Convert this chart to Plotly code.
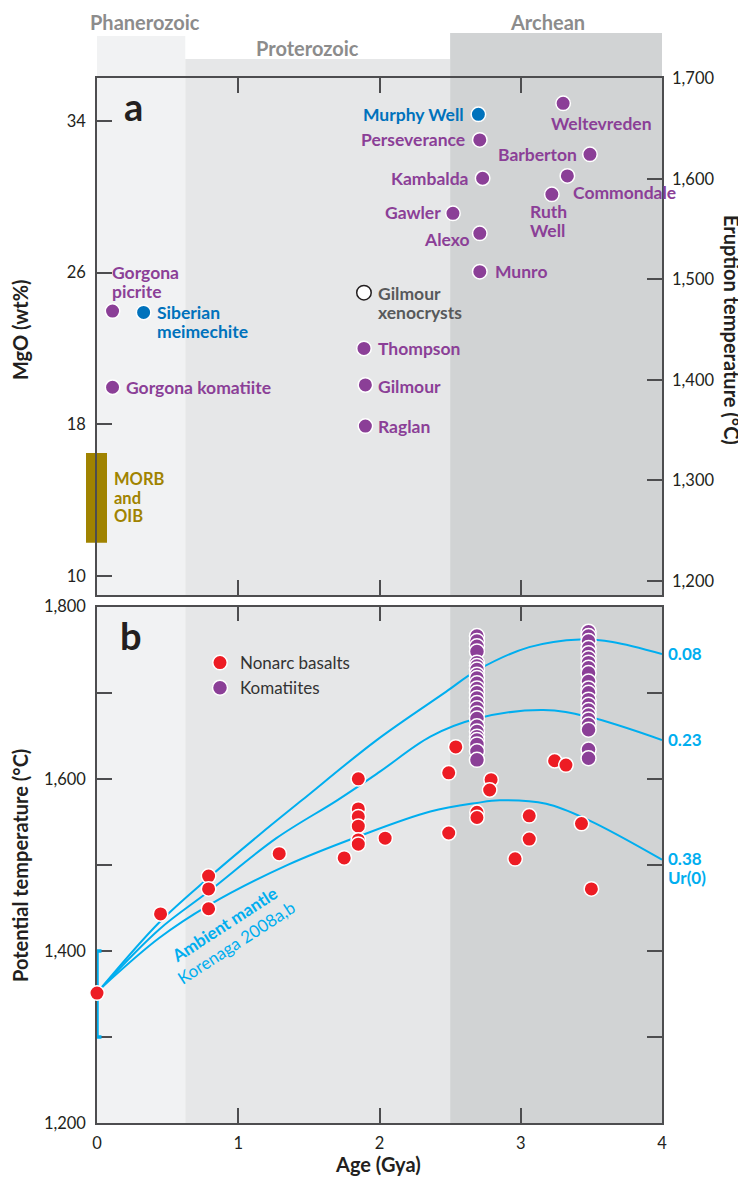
import plotly.graph_objects as go

# ---------------- data ----------------
eon_names = ["Phanerozoic", "Proterozoic", "Archean"]
eon_start = [0.0, 0.625, 2.5]
eon_end = [0.625, 2.5, 4.0]

# panel a: MgO (wt%) vs age (Gya)
a_names = ["Murphy Well", "Weltevreden", "Perseverance", "Barberton", "Kambalda",
           "Commondale", "Ruth<br>Well", "Gawler", "Alexo", "Munro",
           "Gilmour<br>xenocrysts", "Thompson", "Gilmour", "Raglan",
           "Gorgona<br>picrite", "Siberian<br>meimechite", "Gorgona komatiite"]
a_age = [2.70, 3.30, 2.71, 3.49, 2.73, 3.33, 3.22, 2.52, 2.71, 2.71,
         1.89, 1.89, 1.90, 1.90, 0.11, 0.33, 0.11]
a_mgo = [34.35, 34.93, 33.0, 32.24, 30.98, 31.10, 30.13, 29.13, 28.07, 26.05,
         24.94, 22.0, 20.07, 17.9, 23.97, 23.9, 19.95]
a_group = ["blue", "purple", "purple", "purple", "purple", "purple", "purple", "purple",
           "purple", "purple", "open", "purple", "purple", "purple", "purple", "blue", "purple"]

morb_mgo_range = [11.75, 16.48]

mgo_ticks = [10, 18, 26, 34]
mgo_ticktext = ["10", "18", "26", "34"]
erupt_ticks = [1200, 1300, 1400, 1500, 1600, 1700]
erupt_ticktext = ["1,200", "1,300", "1,400", "1,500", "1,600", "1,700"]

# panel b: potential temperature vs age
nonarc_age = [0.0, 0.45, 0.79, 0.79, 0.79, 1.29, 1.85, 1.85, 1.85, 1.85, 1.85, 1.85,
              1.75, 2.04, 2.54, 2.49, 2.79, 2.78, 2.69, 2.69, 2.49, 3.06, 3.06, 2.96,
              3.24, 3.32, 3.43, 3.50]
nonarc_T = [1351, 1443, 1487, 1472, 1449, 1513, 1600, 1565, 1556, 1545, 1529, 1524,
            1508, 1531, 1637, 1607, 1599, 1587, 1561, 1555, 1537, 1557, 1530, 1507,
            1621, 1616, 1548, 1472]

kom_age = [2.69, 2.69, 2.69, 2.69, 2.69, 2.69, 2.69, 2.69, 2.69, 2.69, 2.69, 2.69,
           2.69, 2.69, 2.69, 2.69, 2.69, 2.69, 2.69, 2.69, 2.69, 2.69, 2.69, 2.69,
           3.48, 3.48, 3.48, 3.48, 3.48, 3.48, 3.48, 3.48, 3.48, 3.48, 3.48, 3.48,
           3.48, 3.48, 3.48, 3.48, 3.48, 3.48, 3.48, 3.48, 3.48]
kom_T = [1766, 1760, 1754, 1748, 1735, 1731, 1727, 1721, 1717, 1711, 1705, 1700,
         1694, 1688, 1682, 1676, 1670, 1661, 1655, 1649, 1645, 1640, 1632, 1622,
         1771, 1766, 1760, 1752, 1746, 1740, 1735, 1729, 1723, 1713, 1705, 1700,
         1692, 1686, 1680, 1674, 1669, 1663, 1657, 1634, 1624]

curve_labels = ["0.08", "0.23", "0.38"]
curve_age = [
    [0.03, 0.44, 0.79, 1.15, 1.45, 1.98, 2.47, 2.69, 3.06, 3.42, 3.65, 4.0],
    [0.03, 0.44, 0.79, 1.27, 1.70, 2.00, 2.36, 2.69, 3.16, 3.48, 4.0],
    [0.03, 0.44, 0.79, 1.35, 1.85, 2.36, 2.69, 2.85, 3.18, 3.48, 4.0],
]
curve_T = [
    [1357, 1433, 1485, 1535, 1575, 1645, 1701, 1726, 1753, 1762, 1759, 1745],
    [1357, 1425, 1469, 1531, 1575, 1608, 1649, 1670, 1680, 1672, 1645],
    [1357, 1415, 1453, 1500, 1533, 1562, 1572, 1575, 1571, 1552, 1506],
]

mantle_age = [0.0]
mantle_T = [1350]
mantle_err = [50]

pt_ticks = [1200, 1300, 1400, 1500, 1600, 1700, 1800]
pt_ticktext = ["1,200", "", "1,400", "", "1,600", "", "1,800"]
age_ticks = [0, 1, 2, 3, 4]
age_ticktext = ["0", "1", "2", "3", "4"]

# ---------------- style ----------------
OFF = 8  # page body margin
W, H = 746 - OFF, 1177 - OFF
L, R, T, B = 97 - OFF, 84, 78 - OFF, 54
PW, PH = W - L - R, H - T - B
FONT = "Lato"
PURPLE = "#8b3f97"
BLUE = "#0072bc"
RED = "#ed1c24"
CYAN = "#00aeef"
OLIVE = "#a08300"
GRAYTXT = "#8c8c8c"
AX = "#4d4d4f"
TXT = "#231f20"
band_colors = ["#f1f2f3", "#e6e7e8", "#d1d3d4"]
band_tops_px = [36, 59, 33]
label_pos_px = [(145, 22), (307, 48), (547, 22)]


def pxx(x):
    # screen px -> paper x
    return (x - 97) / PW


def pxy(y):
    # screen px -> paper y
    return 1 - (y - 78) / PH


a_dom = [pxy(595), 1.0]
b_dom = [0.0, pxy(606.7)]

group_color = {"purple": PURPLE, "blue": BLUE, "open": "#58595b"}
# label placement: (dx px, dy px down, anchor)
label_style = {
    "Murphy Well": (-12, 0, "right"),
    "Weltevreden": (38, 20, "center"),
    "Perseverance": (-13, 0, "right"),
    "Barberton": (-11, 0, "right"),
    "Kambalda": (-13, 0, "right"),
    "Commondale": (4, 17, "left"),
    "Ruth<br>Well": (-24, 27, "left"),
    "Gawler": (-10, -1, "right"),
    "Alexo": (-8, 6, "right"),
    "Munro": (13, 0, "left"),
    "Gilmour<br>xenocrysts": (12, 10, "left"),
    "Thompson": (12, 0, "left"),
    "Gilmour": (11, 2, "left"),
    "Raglan": (11, 0, "left"),
    "Gorgona<br>picrite": (-3, -29, "left"),
    "Siberian<br>meimechite": (11, 10, "left"),
    "Gorgona komatiite": (11, 0, "left"),
}
LINE_GAP = 19

fig = go.Figure()

# panel a points
for grp, fill, lc in [("purple", PURPLE, "white"), ("blue", BLUE, "white"), ("open", "white", "#231f20")]:
    xs = [a for a, g in zip(a_age, a_group) if g == grp]
    ys = [m for m, g in zip(a_mgo, a_group) if g == grp]
    fig.add_trace(go.Scatter(x=xs, y=ys, xaxis="x", yaxis="y", mode="markers",
                             marker=dict(size=14.5, color=fill, line=dict(color=lc, width=1.5)),
                             showlegend=False, cliponaxis=False, hoverinfo="skip"))
# invisible trace to carry the eruption-temperature axis
fig.add_trace(go.Scatter(x=[2, 2], y=[erupt_ticks[0], erupt_ticks[-1]], xaxis="x", yaxis="y2",
                         mode="markers", marker=dict(opacity=0), showlegend=False, hoverinfo="skip"))

# panel b curves
for ca, ct in zip(curve_age, curve_T):
    fig.add_trace(go.Scatter(x=ca, y=ct, xaxis="x2", yaxis="y3", mode="lines",
                             line=dict(color=CYAN, width=2, shape="spline", smoothing=1.0),
                             showlegend=False, hoverinfo="skip"))
# ambient mantle range bar
fig.add_trace(go.Scatter(x=mantle_age, y=mantle_T, xaxis="x2", yaxis="y3", mode="markers",
                         marker=dict(size=2, opacity=0),
                         error_y=dict(type="data", array=mantle_err, color=CYAN, thickness=3.5, width=4.5),
                         showlegend=False, cliponaxis=False, hoverinfo="skip"))
fig.add_trace(go.Scatter(x=kom_age, y=kom_T, xaxis="x2", yaxis="y3", mode="markers",
                         name="Komatiites", legendrank=2,
                         marker=dict(size=15, color=PURPLE, line=dict(color="white", width=1.5)),
                         cliponaxis=False, hoverinfo="skip"))
fig.add_trace(go.Scatter(x=nonarc_age, y=nonarc_T, xaxis="x2", yaxis="y3", mode="markers",
                         name="Nonarc basalts", legendrank=1,
                         marker=dict(size=14.5, color=RED, line=dict(color="white", width=1.5)),
                         cliponaxis=False, hoverinfo="skip"))

shapes = []
for s, e, c, top in zip(eon_start, eon_end, band_colors, band_tops_px):
    shapes.append(dict(type="rect", xref="paper", yref="paper", x0=s / 4, x1=e / 4,
                       y0=a_dom[0], y1=pxy(top), fillcolor=c, line=dict(width=0), layer="below"))
    shapes.append(dict(type="rect", xref="paper", yref="paper", x0=s / 4, x1=e / 4,
                       y0=b_dom[0], y1=b_dom[1], fillcolor=c, line=dict(width=0), layer="below"))
shapes.append(dict(type="rect", xref="paper", yref="y", x0=-11 / PW, x1=10 / PW,
                   y0=morb_mgo_range[0], y1=morb_mgo_range[1], fillcolor=OLIVE,
                   line=dict(width=0), layer="below"))

ann = []


def add_paper_text(text, x, y, size, color, angle=0, xanchor="center"):
    ann.append(dict(text=text, xref="paper", yref="paper", x=pxx(x), y=pxy(y),
                    xanchor=xanchor, yanchor="middle", showarrow=False, textangle=angle,
                    font=dict(family=FONT, size=size, color=color)))


for name, (lx, ly) in zip(eon_names, label_pos_px):
    add_paper_text(f"<b>{name}</b>", lx, ly, 20, GRAYTXT)

for n, a, m, g in zip(a_names, a_age, a_mgo, a_group):
    dx, dy, anc = label_style[n]
    lines = n.split("<br>")
    k = len(lines)
    for i, line in enumerate(lines):
        off = dy + (i - (k - 1) / 2) * LINE_GAP
        ann.append(dict(text=f"<b>{line}</b>", xref="x", yref="y", x=a, y=m, showarrow=False,
                        xanchor=anc, yanchor="middle", xshift=dx, yshift=-off,
                        font=dict(family=FONT, size=17.5, color=group_color[g])))

for i, line in enumerate(["MORB", "and", "OIB"]):
    add_paper_text(f"<b>{line}</b>", 112, 479 + i * 18.5, 16.5, OLIVE, xanchor="left")

add_paper_text("<b>a</b>", 133.5, 106, 38, TXT)
add_paper_text("<b>b</b>", 130.5, 635, 38, TXT)

# curve labels
for lab, ca, ct in zip(curve_labels, curve_age, curve_T):
    ann.append(dict(text=f"<b>{lab}</b>", xref="x2", yref="y3", x=ca[-1], y=ct[-1], showarrow=False,
                    xanchor="left", yanchor="middle", xshift=4, yshift=1,
                    font=dict(family=FONT, size=17, color=CYAN)))
ann.append(dict(text="<b>Ur(0)</b>", xref="x2", yref="y3", x=curve_age[2][-1], y=curve_T[2][-1],
                showarrow=False, xanchor="left", yanchor="middle", xshift=4, yshift=-18,
                font=dict(family=FONT, size=17, color=CYAN)))
add_paper_text("<b>Ambient mantle</b>", 224, 924, 17, CYAN, angle=-33)
add_paper_text("Korenaga 2008a,b", 236, 942, 17, CYAN, angle=-33)

# axis titles
add_paper_text("<b>MgO (wt%)</b>", 20, 330, 20, TXT, angle=-90)
add_paper_text("<b>Eruption temperature (°C)</b>", 732, 330, 20, TXT, angle=90)
add_paper_text("<b>Potential temperature (°C)</b>", 20, 866, 20, TXT, angle=-90)
add_paper_text("<b>Age (Gya)</b>", 378, 1164, 20, TXT)

axis_common = dict(showline=True, linecolor=AX, linewidth=1.5, ticks="inside", ticklen=15,
                   tickcolor=AX, tickwidth=1.5, showgrid=False, zeroline=False,
                   tickfont=dict(family=FONT, size=16.5, color=TXT))

fig.update_layout(
    width=W, height=H, autosize=False,
    margin=dict(l=L, r=R, t=T, b=B, pad=0),
    paper_bgcolor="white", plot_bgcolor="rgba(0,0,0,0)",
    font=dict(family=FONT, color=TXT),
    xaxis=dict(domain=[0, 1], anchor="y", range=[0, 4], mirror="ticks",
               tickvals=[1, 2, 3], showticklabels=False, **axis_common),
    yaxis=dict(domain=a_dom, anchor="x", range=[8.987, 36.269], tickvals=mgo_ticks,
               ticktext=mgo_ticktext, ticklabelstandoff=6, **axis_common),
    yaxis2=dict(overlaying="y", side="right", anchor="x", range=[1185.8, 1700.3],
                tickvals=erupt_ticks, ticktext=erupt_ticktext, ticklabelstandoff=5, **axis_common),
    xaxis2=dict(domain=[0, 1], anchor="y3", range=[0, 4], mirror="ticks", layer="below traces",
                tickvals=age_ticks, ticktext=age_ticktext, ticklabelstandoff=4, **axis_common),
    yaxis3=dict(domain=b_dom, anchor="x2", range=[1200, 1800], mirror="ticks", layer="below traces",
                tickvals=pt_ticks, ticktext=pt_ticktext, ticklabelstandoff=6, **axis_common),
    shapes=shapes,
    annotations=ann,
    showlegend=True,
    legend=dict(x=pxx(200), y=pxy(645), xanchor="left", yanchor="top",
                bgcolor="rgba(0,0,0,0)", borderwidth=0, itemwidth=30,
                font=dict(family=FONT, size=17, color="#333333"), tracegroupgap=0),
)

fig.write_html("out.html")
